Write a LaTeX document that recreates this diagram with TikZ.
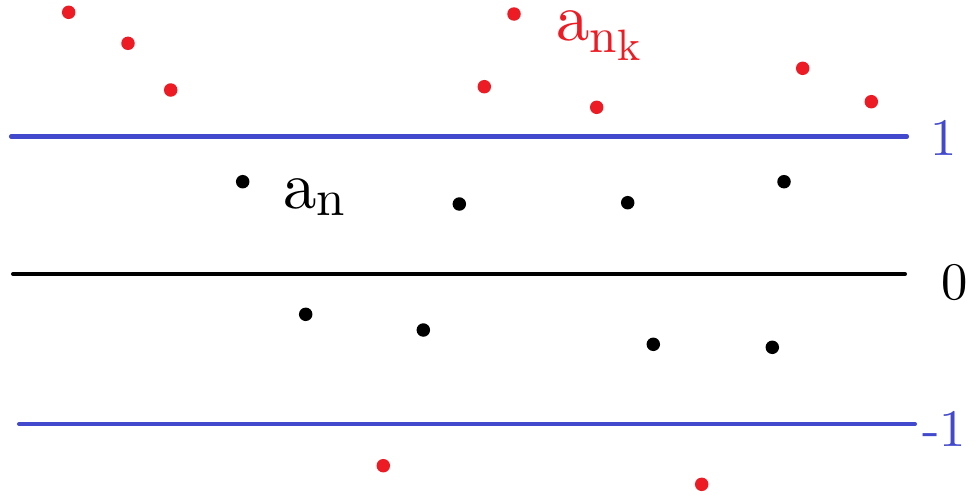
\documentclass[tikz,border=0pt]{standalone}
\usepackage{fontspec}
\setmainfont{lmroman10-regular.otf}
\definecolor{dotred}{RGB}{237,28,36}
\definecolor{bandblue}{RGB}{67,73,204}
\newcommand{\lowsub}[3]{\raisebox{-#1}{\fontsize{#2}{#2}\selectfont #3}}
\begin{document}
\begin{tikzpicture}[x=0.02cm, y=-0.02cm,
    rdot/.style={circle, fill=dotred, inner sep=0pt, minimum size=0.27cm},
    bdot/.style={circle, fill=black, inner sep=0pt, minimum size=0.27cm},
    band/.style={line width=2.3pt, line cap=round},
    lbl/.style={anchor=base west, inner sep=0pt}]
    \useasboundingbox (0,0) rectangle (979,494);
    % grenzen 1, 0 en -1
    \coordinate (top-l) at (11,136.5);
    \coordinate (top-r) at (907,136.5);
    \coordinate (mid-l) at (13,274);
    \coordinate (mid-r) at (905,274);
    \coordinate (bot-l) at (19,424);
    \coordinate (bot-r) at (915,424);
    \draw [band, draw=bandblue] (top-l) -- (top-r);
    \draw [band, draw=black] (mid-l) -- (mid-r);
    \draw [band, draw=bandblue] (bot-l) -- (bot-r);
    \node (one)   [lbl, text=bandblue, font=\fontsize{30}{30}\selectfont] at (930,155) {1};
    \node (zero)  [lbl, font=\fontsize{30}{30}\selectfont] at (941,299) {0};
    \node (mone)  [lbl, text=bandblue, font=\fontsize{30}{30}\selectfont] at (922,446) {-1};
    % rij a_n
    \node (b1) [bdot] at (242.7,181.7) {};
    \node (b2) [bdot] at (459.3,204) {};
    \node (b3) [bdot] at (627.7,202.7) {};
    \node (b4) [bdot] at (784,181.7) {};
    \node (b5) [bdot] at (305.7,314.3) {};
    \node (b6) [bdot] at (423.3,330) {};
    \node (b7) [bdot] at (653.3,344.3) {};
    \node (b8) [bdot] at (772.3,347.3) {};
    \node (an) [lbl, font=\fontsize{38}{38}\selectfont] at (283,208) {a\lowsub{4pt}{29}{n}};
    % deelrij a_{n_k}
    \node (r1)  [rdot] at (68.7,12.3) {};
    \node (r2)  [rdot] at (128,43.3) {};
    \node (r3)  [rdot] at (170.7,90) {};
    \node (r4)  [rdot] at (514,14) {};
    \node (r5)  [rdot] at (484.3,86.7) {};
    \node (r6)  [rdot] at (596.7,107.3) {};
    \node (r7)  [rdot] at (802.7,68.3) {};
    \node (r8)  [rdot] at (871.3,101.7) {};
    \node (r9)  [rdot] at (383.3,465.7) {};
    \node (r10) [rdot] at (701.7,484.3) {};
    \node (ank) [lbl, text=dotred, text height=0.6cm, font=\fontsize{38}{38}\selectfont] at (556,40) {a\lowsub{7pt}{28}{n\lowsub{4.5pt}{25}{k}}};
\end{tikzpicture}
\end{document}
